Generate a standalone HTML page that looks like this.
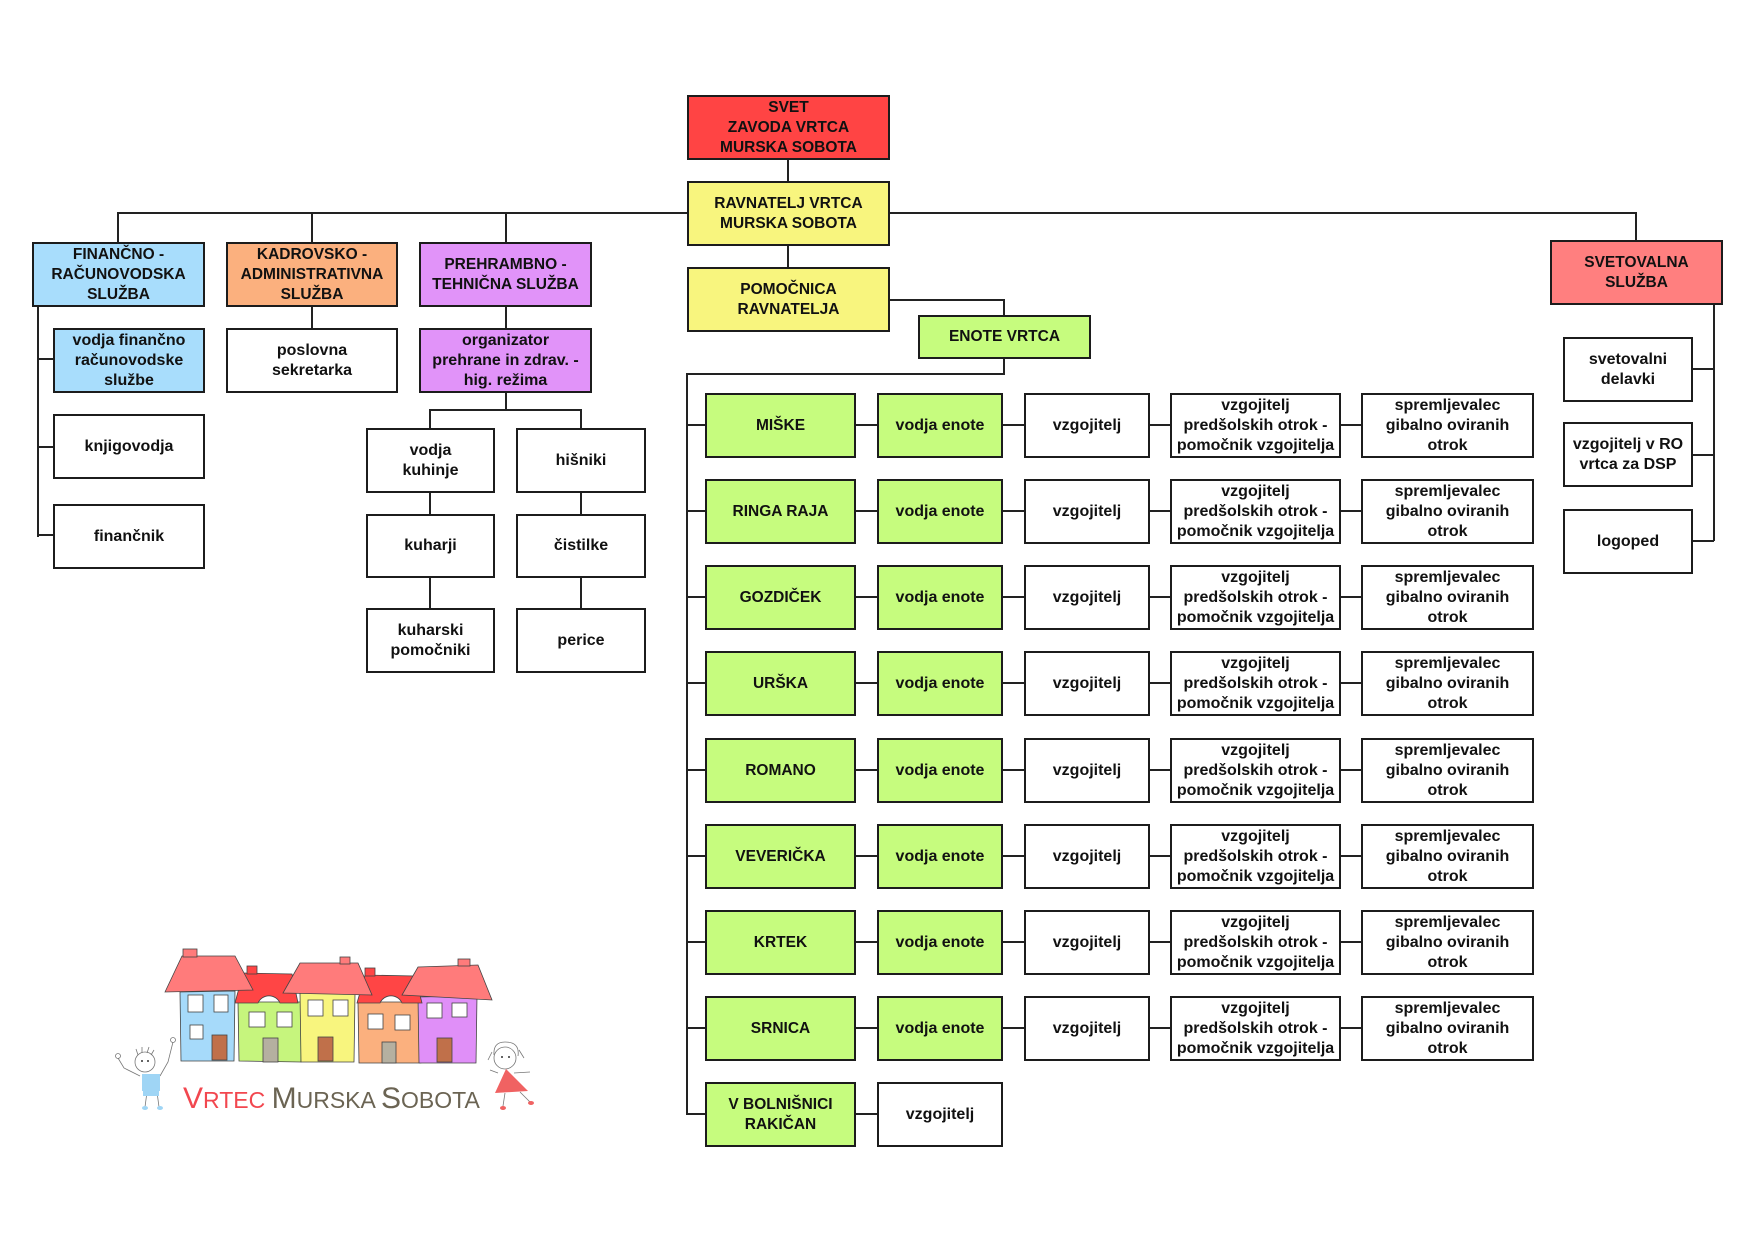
<!DOCTYPE html>
<html><head><meta charset="utf-8">
<style>
*{margin:0;padding:0;box-sizing:border-box}
body{width:1755px;height:1242px;background:#fff;overflow:hidden}
#c{position:relative;width:1755px;height:1242px;background:#fff;font-family:"Liberation Sans",Arial,sans-serif;font-weight:bold;color:#111}
.b{position:absolute;border:2px solid #1c1c1c;display:flex;align-items:center;justify-content:center;text-align:center;line-height:20px;font-size:16px;background:#fff}
.u{font-size:15.5px}
.l{position:absolute;background:#222}
.red{background:#FF4444}.yel{background:#F8F57E}.blu{background:#A8DDFC}.org{background:#FBB07E}.pur{background:#E193F9}.grn{background:#C6FC7E}.pnk{background:#FF7F7F}
</style></head><body><div id="c">

<!-- lines -->
<div class="l" style="left:117px;top:212px;width:1520px;height:2px"></div>
<div class="l" style="left:117px;top:213px;width:2px;height:29px"></div>
<div class="l" style="left:311px;top:213px;width:2px;height:29px"></div>
<div class="l" style="left:505px;top:213px;width:2px;height:29px"></div>
<div class="l" style="left:1635px;top:213px;width:2px;height:28px"></div>
<div class="l" style="left:787px;top:160px;width:2px;height:21px"></div>
<div class="l" style="left:787px;top:246px;width:2px;height:21px"></div>

<div class="l" style="left:37px;top:307px;width:2px;height:230px"></div>
<div class="l" style="left:37px;top:358px;width:16px;height:2px"></div>
<div class="l" style="left:37px;top:446px;width:16px;height:2px"></div>
<div class="l" style="left:37px;top:534px;width:16px;height:2px"></div>
<div class="l" style="left:311px;top:307px;width:2px;height:21px"></div>
<div class="l" style="left:505px;top:307px;width:2px;height:21px"></div>
<div class="l" style="left:505px;top:393px;width:2px;height:17px"></div>
<div class="l" style="left:429px;top:409px;width:153px;height:2px"></div>
<div class="l" style="left:429px;top:409px;width:2px;height:19px"></div>
<div class="l" style="left:580px;top:409px;width:2px;height:19px"></div>
<div class="l" style="left:429px;top:493px;width:2px;height:21px"></div>
<div class="l" style="left:429px;top:578px;width:2px;height:30px"></div>
<div class="l" style="left:580px;top:493px;width:2px;height:21px"></div>
<div class="l" style="left:580px;top:578px;width:2px;height:30px"></div>

<div class="l" style="left:890px;top:299px;width:115px;height:2px"></div>
<div class="l" style="left:1003px;top:299px;width:2px;height:16px"></div>
<div class="l" style="left:1003px;top:359px;width:2px;height:15px"></div>
<div class="l" style="left:686px;top:373px;width:319px;height:2px"></div>
<div class="l" style="left:686px;top:373px;width:2px;height:742px"></div>

<div class="l" style="left:1713px;top:305px;width:2px;height:236px"></div>
<div class="l" style="left:1692px;top:368px;width:22px;height:2px"></div>
<div class="l" style="left:1692px;top:454px;width:22px;height:2px"></div>
<div class="l" style="left:1692px;top:540px;width:22px;height:2px"></div>

<!-- row connectors -->
<div class="l" style="left:686px;top:424px;width:675px;height:2px"></div>
<div class="l" style="left:686px;top:510px;width:675px;height:2px"></div>
<div class="l" style="left:686px;top:596px;width:675px;height:2px"></div>
<div class="l" style="left:686px;top:682px;width:675px;height:2px"></div>
<div class="l" style="left:686px;top:769px;width:675px;height:2px"></div>
<div class="l" style="left:686px;top:855px;width:675px;height:2px"></div>
<div class="l" style="left:686px;top:941px;width:675px;height:2px"></div>
<div class="l" style="left:686px;top:1027px;width:675px;height:2px"></div>
<div class="l" style="left:686px;top:1113px;width:191px;height:2px"></div>

<!-- top boxes -->
<div class="b u red" style="left:687px;top:95px;width:203px;height:65px">SVET<br>ZAVODA VRTCA<br>MURSKA SOBOTA</div>
<div class="b u yel" style="left:687px;top:181px;width:203px;height:65px">RAVNATELJ VRTCA<br>MURSKA SOBOTA</div>
<div class="b u yel" style="left:687px;top:267px;width:203px;height:65px">POMOČNICA<br>RAVNATELJA</div>
<div class="b u grn" style="left:918px;top:315px;width:173px;height:44px">ENOTE VRTCA</div>

<div class="b u blu" style="left:32px;top:242px;width:173px;height:65px">FINANČNO -<br>RAČUNOVODSKA<br>SLUŽBA</div>
<div class="b u org" style="left:226px;top:242px;width:172px;height:65px">KADROVSKO -<br>ADMINISTRATIVNA<br>SLUŽBA</div>
<div class="b u pur" style="left:419px;top:242px;width:173px;height:65px">PREHRAMBNO -<br>TEHNIČNA SLUŽBA</div>

<div class="b blu" style="left:53px;top:328px;width:152px;height:65px">vodja finančno<br>računovodske<br>službe</div>
<div class="b" style="left:226px;top:328px;width:172px;height:65px">poslovna<br>sekretarka</div>
<div class="b pur" style="left:419px;top:328px;width:173px;height:65px">organizator<br>prehrane in zdrav. -<br>hig. režima</div>
<div class="b" style="left:53px;top:414px;width:152px;height:65px">knjigovodja</div>
<div class="b" style="left:53px;top:504px;width:152px;height:65px">finančnik</div>

<div class="b" style="left:366px;top:428px;width:129px;height:65px">vodja<br>kuhinje</div>
<div class="b" style="left:366px;top:514px;width:129px;height:64px">kuharji</div>
<div class="b" style="left:366px;top:608px;width:129px;height:65px">kuharski<br>pomočniki</div>
<div class="b" style="left:516px;top:428px;width:130px;height:65px">hišniki</div>
<div class="b" style="left:516px;top:514px;width:130px;height:64px">čistilke</div>
<div class="b" style="left:516px;top:608px;width:130px;height:65px">perice</div>

<div class="b u pnk" style="left:1550px;top:240px;width:173px;height:65px">SVETOVALNA<br>SLUŽBA</div>
<div class="b" style="left:1563px;top:337px;width:130px;height:65px">svetovalni<br>delavki</div>
<div class="b" style="left:1563px;top:422px;width:130px;height:65px">vzgojitelj v RO<br>vrtca za DSP</div>
<div class="b" style="left:1563px;top:509px;width:130px;height:65px">logoped</div>

<!-- rows -->
<div class="b u grn" style="left:705px;top:393px;width:151px;height:65px">MIŠKE</div>
<div class="b grn" style="left:877px;top:393px;width:126px;height:65px">vodja enote</div>
<div class="b" style="left:1024px;top:393px;width:126px;height:65px">vzgojitelj</div>
<div class="b" style="left:1170px;top:393px;width:171px;height:65px">vzgojitelj<br>predšolskih otrok -<br>pomočnik vzgojitelja</div>
<div class="b" style="left:1361px;top:393px;width:173px;height:65px">spremljevalec<br>gibalno oviranih<br>otrok</div>

<div class="b u grn" style="left:705px;top:479px;width:151px;height:65px">RINGA RAJA</div>
<div class="b grn" style="left:877px;top:479px;width:126px;height:65px">vodja enote</div>
<div class="b" style="left:1024px;top:479px;width:126px;height:65px">vzgojitelj</div>
<div class="b" style="left:1170px;top:479px;width:171px;height:65px">vzgojitelj<br>predšolskih otrok -<br>pomočnik vzgojitelja</div>
<div class="b" style="left:1361px;top:479px;width:173px;height:65px">spremljevalec<br>gibalno oviranih<br>otrok</div>

<div class="b u grn" style="left:705px;top:565px;width:151px;height:65px">GOZDIČEK</div>
<div class="b grn" style="left:877px;top:565px;width:126px;height:65px">vodja enote</div>
<div class="b" style="left:1024px;top:565px;width:126px;height:65px">vzgojitelj</div>
<div class="b" style="left:1170px;top:565px;width:171px;height:65px">vzgojitelj<br>predšolskih otrok -<br>pomočnik vzgojitelja</div>
<div class="b" style="left:1361px;top:565px;width:173px;height:65px">spremljevalec<br>gibalno oviranih<br>otrok</div>

<div class="b u grn" style="left:705px;top:651px;width:151px;height:65px">URŠKA</div>
<div class="b grn" style="left:877px;top:651px;width:126px;height:65px">vodja enote</div>
<div class="b" style="left:1024px;top:651px;width:126px;height:65px">vzgojitelj</div>
<div class="b" style="left:1170px;top:651px;width:171px;height:65px">vzgojitelj<br>predšolskih otrok -<br>pomočnik vzgojitelja</div>
<div class="b" style="left:1361px;top:651px;width:173px;height:65px">spremljevalec<br>gibalno oviranih<br>otrok</div>

<div class="b u grn" style="left:705px;top:738px;width:151px;height:65px">ROMANO</div>
<div class="b grn" style="left:877px;top:738px;width:126px;height:65px">vodja enote</div>
<div class="b" style="left:1024px;top:738px;width:126px;height:65px">vzgojitelj</div>
<div class="b" style="left:1170px;top:738px;width:171px;height:65px">vzgojitelj<br>predšolskih otrok -<br>pomočnik vzgojitelja</div>
<div class="b" style="left:1361px;top:738px;width:173px;height:65px">spremljevalec<br>gibalno oviranih<br>otrok</div>

<div class="b u grn" style="left:705px;top:824px;width:151px;height:65px">VEVERIČKA</div>
<div class="b grn" style="left:877px;top:824px;width:126px;height:65px">vodja enote</div>
<div class="b" style="left:1024px;top:824px;width:126px;height:65px">vzgojitelj</div>
<div class="b" style="left:1170px;top:824px;width:171px;height:65px">vzgojitelj<br>predšolskih otrok -<br>pomočnik vzgojitelja</div>
<div class="b" style="left:1361px;top:824px;width:173px;height:65px">spremljevalec<br>gibalno oviranih<br>otrok</div>

<div class="b u grn" style="left:705px;top:910px;width:151px;height:65px">KRTEK</div>
<div class="b grn" style="left:877px;top:910px;width:126px;height:65px">vodja enote</div>
<div class="b" style="left:1024px;top:910px;width:126px;height:65px">vzgojitelj</div>
<div class="b" style="left:1170px;top:910px;width:171px;height:65px">vzgojitelj<br>predšolskih otrok -<br>pomočnik vzgojitelja</div>
<div class="b" style="left:1361px;top:910px;width:173px;height:65px">spremljevalec<br>gibalno oviranih<br>otrok</div>

<div class="b u grn" style="left:705px;top:996px;width:151px;height:65px">SRNICA</div>
<div class="b grn" style="left:877px;top:996px;width:126px;height:65px">vodja enote</div>
<div class="b" style="left:1024px;top:996px;width:126px;height:65px">vzgojitelj</div>
<div class="b" style="left:1170px;top:996px;width:171px;height:65px">vzgojitelj<br>predšolskih otrok -<br>pomočnik vzgojitelja</div>
<div class="b" style="left:1361px;top:996px;width:173px;height:65px">spremljevalec<br>gibalno oviranih<br>otrok</div>

<div class="b u grn" style="left:705px;top:1082px;width:151px;height:65px">V BOLNIŠNICI<br>RAKIČAN</div>
<div class="b" style="left:877px;top:1082px;width:126px;height:65px">vzgojitelj</div>

<!-- logo -->
<svg style="position:absolute;left:100px;top:930px" width="460" height="200" viewBox="0 0 460 200">
 <g stroke="#444" stroke-width="0.8">
  <!-- bodies -->
  <path d="M80 62 L135 61 L134 131 L81 131 Z" fill="#A6DAFA"/>
  <path d="M138 72 L202 72 L201 132 L139 131 Z" fill="#C6F57D"/>
  <path d="M200 63 L255 64 L254 132 L201 132 Z" fill="#F8F57E"/>
  <path d="M258 72 L322 72 L321 133 L259 133 Z" fill="#FBB07E"/>
  <path d="M318 67 L377 66 L376 133 L319 133 Z" fill="#E08FF8"/>
  <!-- red roofs -->
  <path d="M135 73 L143 43 L192 44 L198 73 L180 73 A12 12 0 0 0 158 73 Z" fill="#FF4545"/>
  <rect x="147" y="36" width="10" height="8" fill="#FF4545"/>
  <path d="M257 73 L265 45 L315 46 L322 73 L302 73 A12 12 0 0 0 280 73 Z" fill="#FF4545"/>
  <rect x="265" y="38" width="10" height="8" fill="#FF4545"/>
  <!-- pink roofs -->
  <path d="M65 62 L82 26 L135 26 L153 60 Z" fill="#FF7B7B"/>
  <rect x="83" y="19" width="14" height="8" fill="#FF7B7B"/>
  <path d="M183 63 L200 33 L258 33 L272 65 Z" fill="#FF7B7B"/>
  <rect x="240" y="27" width="10" height="7" fill="#FF7B7B"/>
  <path d="M302 65 L318 37 L378 35 L392 70 Z" fill="#FF7B7B"/>
  <rect x="358" y="29" width="12" height="7" fill="#FF7B7B"/>
  <!-- windows -->
  <g fill="#fff">
   <rect x="88" y="65" width="15" height="17"/><rect x="114" y="65" width="14" height="17"/><rect x="90" y="95" width="13" height="14"/>
   <rect x="149" y="82" width="16" height="15"/><rect x="177" y="82" width="15" height="15"/>
   <rect x="208" y="70" width="15" height="16"/><rect x="233" y="70" width="15" height="16"/>
   <rect x="268" y="84" width="15" height="15"/><rect x="295" y="85" width="15" height="15"/>
   <rect x="327" y="73" width="15" height="15"/><rect x="352" y="73" width="15" height="14"/>
  </g>
  <!-- doors -->
  <rect x="112" y="105" width="15" height="25" fill="#C0704A"/>
  <rect x="163" y="108" width="15" height="24" fill="#B5B0A0"/>
  <rect x="218" y="107" width="15" height="24" fill="#C0704A"/>
  <rect x="282" y="112" width="14" height="21" fill="#B5B0A0"/>
  <rect x="337" y="108" width="15" height="24" fill="#C0704A"/>
 </g>
 <!-- boy -->
 <g stroke="#777" stroke-width="0.8" fill="none">
  <circle cx="45" cy="132" r="10" fill="#fff"/>
  <path d="M38 125 L36 119 M42 123 L42 117 M47 123 L49 117 M51 125 L54 120"/>
  <path d="M40 146 L24 138 L18 128 M60 146 L68 132 L73 112"/>
  <circle cx="18" cy="126" r="2.5"/><circle cx="73" cy="110" r="2.5"/>
  <path d="M47 162 L45 177 M57 162 L59 177"/>
 </g>
 <circle cx="42" cy="131" r="1" fill="#333"/><circle cx="48" cy="131" r="1" fill="#333"/>
 <rect x="42" y="144" width="18" height="17" fill="#9FD5F5"/>
 <rect x="43" y="161" width="16" height="5" fill="#9FD5F5"/>
 <ellipse cx="45" cy="178" rx="3" ry="2" fill="#9FD5F5"/><ellipse cx="60" cy="178" rx="3" ry="2" fill="#9FD5F5"/>
 <!-- girl -->
 <g stroke="#777" stroke-width="0.8" fill="none">
  <circle cx="405" cy="128" r="11" fill="#fff"/>
  <path d="M394 125 Q393 112 405 112 Q420 112 418 126 M392 122 L388 130 M419 120 L424 128"/>
  <path d="M398 143 L390 140 M414 143 L430 142 M405 163 L403 176 M420 162 L430 172"/>
 </g>
 <circle cx="402" cy="127" r="1" fill="#333"/><circle cx="409" cy="127" r="1" fill="#333"/>
 <path d="M406 139 L395 163 L428 161 Z" fill="#F06262"/>
 <ellipse cx="403" cy="178" rx="3" ry="2" fill="#F06262"/><ellipse cx="431" cy="173" rx="3" ry="2" fill="#F06262"/>
 <!-- name -->
 <text x="83" y="178" font-family="Liberation Sans, Arial, sans-serif" font-weight="normal"><tspan fill="#F2474F" font-size="30">V</tspan><tspan fill="#F2474F" font-size="23">RTEC</tspan><tspan fill="#6B6453" font-size="23"> </tspan><tspan fill="#6B6453" font-size="30">M</tspan><tspan fill="#6B6453" font-size="23">URSKA </tspan><tspan fill="#6B6453" font-size="30">S</tspan><tspan fill="#6B6453" font-size="23">OBOTA</tspan></text>
</svg>

</div></body></html>
